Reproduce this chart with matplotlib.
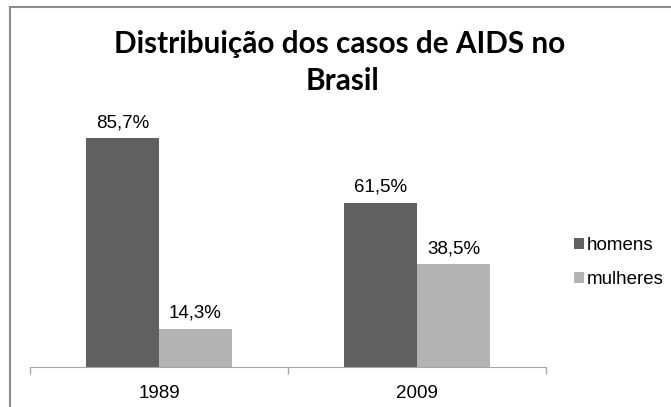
import numpy as np
import matplotlib.pyplot as plt
from matplotlib.lines import Line2D

# dados
anos = ['1989', '2009']
homens = [85.7, 61.5]
mulheres = [14.3, 38.5]
series = ['homens', 'mulheres']
cores = ['#606060', '#b3b3b3']

plt.rcParams['font.family'] = ['Liberation Sans', 'DejaVu Sans']

fig = plt.figure(figsize=(6.71, 4.07), dpi=100)
ax = fig.add_axes([30/671, 40/407, 516/671, 267/407])

x = np.arange(len(anos))
w = 0.283
b1 = ax.bar(x - w/2, homens, w, color=cores[0], label=series[0])
b2 = ax.bar(x + w/2, mulheres, w, color=cores[1], label=series[1])

for barras, vals in [(b1, homens), (b2, mulheres)]:
    for b, v in zip(barras, vals):
        ax.annotate(('%.1f%%' % v).replace('.', ','),
                    (b.get_x() + b.get_width()/2, v),
                    xytext=(0, 5), textcoords='offset points',
                    ha='center', va='bottom', fontsize=13.5)

ax.set_xlim(-0.5, 1.5)
ax.set_ylim(0, 100)
ax.set_xticks(x)
ax.set_xticklabels(anos, fontsize=13.5)
ax.set_xticks([-0.5, 0.5, 1.5], minor=True)
ax.tick_params(axis='x', which='major', length=0, pad=13)
ax.tick_params(axis='x', which='minor', length=5, color='#a6a6a6', width=1)
ax.set_yticks([])
for s in ['top', 'right', 'left']:
    ax.spines[s].set_visible(False)
ax.spines['bottom'].set_color('#a6a6a6')

# titulo
fig.text(340/671, 1 - 53/407, 'Distribuição dos casos de AIDS no',
         ha='center', va='baseline', fontsize=21.4, fontweight='bold',
         family=['Lato', 'DejaVu Sans'])
fig.text(342/671, 1 - 90/407, 'Brasil',
         ha='center', va='baseline', fontsize=21.4, fontweight='bold',
         family=['Lato', 'DejaVu Sans'])

# legenda
fig.legend(handles=[b1, b2], loc='upper left',
           bbox_to_anchor=(574/671, 1 - 237/407), frameon=False,
           fontsize=13.5, handlelength=0.55, handleheight=0.55,
           handletextpad=0.15, labelspacing=0.9, borderpad=0,
           borderaxespad=0)

# borda
fig.add_artist(Line2D([10/671, 1], [1 - 7/407, 1 - 7/407], color='#8c8c8c', lw=1.5,
                      transform=fig.transFigure))
fig.add_artist(Line2D([10/671, 10/671], [0, 1 - 7/407], color='#8c8c8c', lw=1.5,
                      transform=fig.transFigure))

fig.savefig('out.png', dpi=100)
